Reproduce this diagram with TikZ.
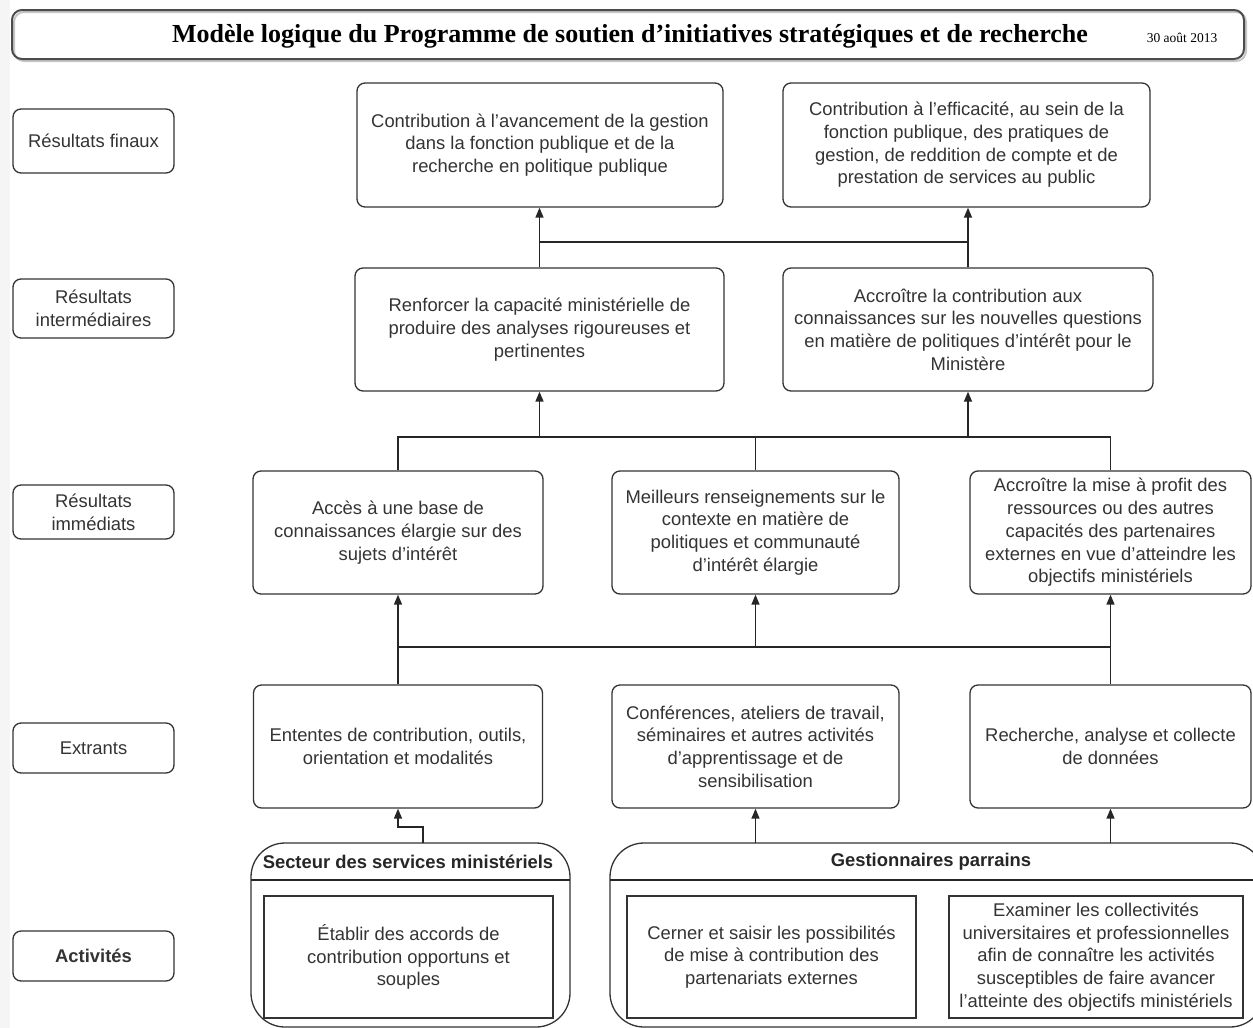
\documentclass[tikz,border=0pt]{standalone}
\usepackage{fontspec}
\setmainfont{Liberation Sans}
\newfontfamily\titlefont{Liberation Serif}
\usetikzlibrary{arrows.meta,calc}
\begin{document}
\begin{tikzpicture}[x=1pt,y=-1pt,
  box/.style={draw=black!80, line width=1.3pt, rounded corners=8pt, align=center, inner sep=0pt,
    text=black!80, font=\fontsize{18.4}{22.7}\selectfont},
  lbl/.style={box, minimum width=161pt},
  actbox/.style={draw=black!80, line width=1.3pt, align=center, inner sep=0pt,
    text=black!80, font=\fontsize{18.4}{22.7}\selectfont, minimum height=122pt},
  grp/.style={draw=black!80, line width=1.3pt, rounded corners=34pt},
  conn/.style={draw=black!85, line width=1.4pt},
  arr/.style={conn, -{Triangle[length=10pt,width=8pt]}},
  hdr/.style={font=\bfseries\fontsize{18.4}{22.7}\selectfont, text=black!85, inner sep=0pt}
]
\useasboundingbox (0,0) rectangle (1253,1028);
\fill[gray!8] (0,0) rectangle (10,1028);

% title
\draw[gray!45, line width=2pt, rounded corners=10pt] (14,12) rectangle (1246,61);
\draw[black!70, line width=2pt, rounded corners=10pt] (12,10) rectangle (1244,59);
\node[font=\titlefont\bfseries\fontsize{26}{30}\selectfont, inner sep=0pt] (title) at (630,36.5) {Modèle logique du Programme de soutien d’initiatives stratégiques et de recherche};
\node[font=\titlefont\fontsize{13.5}{16}\selectfont, inner sep=0pt] (date) at (1182,38) {30 août 2013};

% left labels
\node[lbl, minimum height=64pt] (L1) at (93.5,141) {Résultats finaux};
\node[lbl, minimum height=59pt] (L2) at (93.5,308.5) {Résultats\\intermédiaires};
\node[lbl, minimum height=54pt] (L3) at (93.5,512) {Résultats\\immédiats};
\node[lbl, minimum height=50pt] (L4) at (93.5,748) {Extrants};
\node[lbl, minimum height=50pt, font=\bfseries\fontsize{18.4}{22.7}\selectfont] (L5) at (93.5,956) {Activités};

% final outcomes
\node[box, minimum width=366pt, minimum height=124pt] (F1) at (540,145)
  {Contribution à l’avancement de la gestion\\dans la fonction publique et de la\\recherche en politique publique};
\node[box, minimum width=367pt, minimum height=124pt] (F2) at (966.5,145)
  {Contribution à l’efficacité, au sein de la\\fonction publique, des pratiques de\\gestion, de reddition de compte et de\\prestation de services au public};

% intermediate outcomes
\node[box, minimum width=369pt, minimum height=123pt] (I1) at (539.5,329.5)
  {Renforcer la capacité ministérielle de\\produire des analyses rigoureuses et\\pertinentes};
\node[box, minimum width=370pt, minimum height=123pt] (I2) at (968,329.5)
  {Accroître la contribution aux\\connaissances sur les nouvelles questions\\en matière de politiques d’intérêt pour le\\Ministère};

% immediate outcomes
\node[box, minimum width=290pt, minimum height=123pt] (M1) at (398,532.5)
  {Accès à une base de\\connaissances élargie sur des\\sujets d’intérêt};
\node[box, minimum width=287pt, minimum height=123pt] (M2) at (755.5,532.5)
  {Meilleurs renseignements sur le\\contexte en matière de\\politiques et communauté\\d’intérêt élargie};
\node[box, minimum width=281pt, minimum height=123pt] (M3) at (1110.5,532.5)
  {Accroître la mise à profit des\\ressources ou des autres\\capacités des partenaires\\externes en vue d’atteindre les\\objectifs ministériels};

% outputs
\node[box, minimum width=289pt, minimum height=123pt] (O1) at (398,746.5)
  {Ententes de contribution, outils,\\orientation et modalités};
\node[box, minimum width=287pt, minimum height=123pt] (O2) at (755.5,746.5)
  {Conférences, ateliers de travail,\\séminaires et autres activités\\d’apprentissage et de\\sensibilisation};
\node[box, minimum width=281pt, minimum height=123pt] (O3) at (1110.5,746.5)
  {Recherche, analyse et collecte\\de données};

% activity groups
\begin{scope}
\clip (0,0) rectangle (1253,1028);
\draw[grp] (251,1027) -- (251,843) -- (570,843) -- (570,1027) -- cycle;
\draw[conn] (251,880) -- (570,880);
\draw[grp] (610,1027) -- (610,843) -- (1264,843) -- (1264,1027) -- cycle;
\draw[conn] (610,880) -- (1253,880);
\end{scope}
\node[hdr] (G1h) at (408,862) {Secteur des services ministériels};
\node[hdr] (G2h) at (931,862) {Gestionnaires parrains};
\coordinate (G1top) at (423,843);
\coordinate (G2topa) at (755.5,843);
\coordinate (G2topb) at (1110.5,843);

\node[actbox, minimum width=289pt] (A1) at (408.5,957)
  {Établir des accords de\\contribution opportuns et\\souples};
\node[actbox, minimum width=289pt] (A2) at (771.5,957)
  {Cerner et saisir les possibilités\\de mise à contribution des\\partenariats externes};
\node[actbox, minimum width=294pt] (A3) at (1096,957)
  {Examiner les collectivités\\universitaires et professionnelles\\afin de connaître les activités\\susceptibles de faire avancer\\l’atteinte des objectifs ministériels};

% connectors: activities -> outputs
\draw[arr] (G1top) -- (423,827) -- (398,827) -- (O1.south);
\draw[arr] (G2topa) -- (O2.south);
\draw[arr] (G2topb) -- (O3.south);

% outputs -> immediate
\coordinate (busO1) at (398,647);
\coordinate (busO2) at (755.5,647);
\coordinate (busO3) at (1110.5,647);
\draw[arr] (O1.north) -- (M1.south);
\draw[arr] (O3.north) -- (M3.south);
\draw[conn] (busO1) -- (busO3);
\draw[arr] (busO2) -- (M2.south);

% immediate -> intermediate
\coordinate (busM1) at (398,437);
\coordinate (busM2) at (755.5,437);
\coordinate (busM3) at (1110.5,437);
\coordinate (busI1) at (539.5,437);
\coordinate (busI2) at (968,437);
\draw[conn] (M1.north) -- (busM1) -- (busM3) -- (M3.north);
\draw[conn] (M2.north) -- (busM2);
\draw[arr] (busI1) -- (I1.south);
\draw[arr] (busI2) -- (I2.south);

% intermediate -> final
\coordinate (busF1) at (539.5,242);
\coordinate (busF2) at (968,242);
\draw[arr] (I1.north) -- (I1.north |- F1.south);
\draw[arr] (I2.north) -- (I2.north |- F2.south);
\draw[conn] (busF1) -- (busF2);
\end{tikzpicture}
\end{document}
